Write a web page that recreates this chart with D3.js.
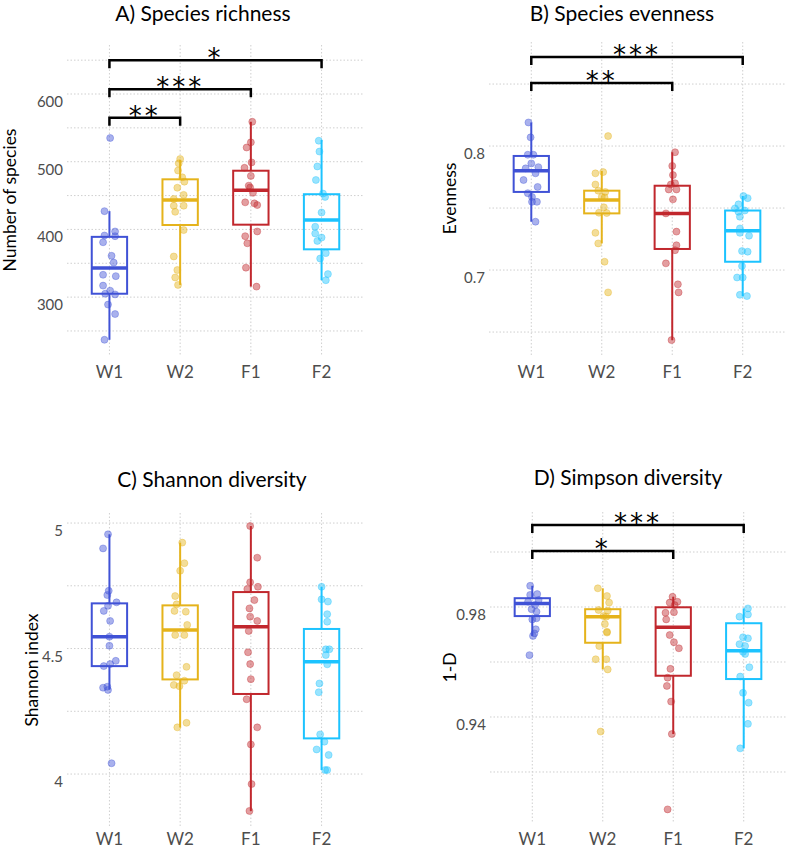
<!DOCTYPE html>
<html>
<head>
<meta charset="utf-8">
<script src="https://cdnjs.cloudflare.com/ajax/libs/d3/7.8.5/d3.min.js"></script>
<style>
  body { margin: 0; background: #fff; }
  svg text { font-family: Lato, "Open Sans", sans-serif; }
  svg text.stars { font-family: "DejaVu Sans", sans-serif; }
</style>
</head>
<body>
<div id="chart"></div>
<script>
// groups and colours
var groups = ["W1", "W2", "F1", "F2"];
var groupColors = ["#4052D6", "#E5B31B", "#C1272D", "#1CC3FF"];

// each point: [value, jitter (in category units)]
// A) species richness
var richnessPoints = [
  [[535,0.01],[427,-0.07],[397,0.08],[391,-0.07],[390,0.08],[381,-0.09],[361,0.03],[351,0.06],[333,-0.09],[331,0.09],[317,-0.09],[309.5,0.01],[305,-0.06],[304,0.08],[289,-0.02],[275,0.08],[237,-0.07]],
  [[504,0],[497.6,-0.02],[487,-0.03],[477,0.03],[470.5,0.06],[461.6,-0.04],[451,0.05],[445,-0.09],[435,-0.09],[435,0.05],[426,-0.07],[399,0.05],[360,-0.09],[340,-0.04],[329,-0.07],[318,-0.03]],
  [[559,0.02],[528.6,0],[521,-0.06],[499,0.01],[491,-0.09],[479,0],[464.6,-0.03],[462,-0.01],[454,0.03],[440,-0.08],[438.5,0.05],[436,0.09],[397,0.09],[390,-0.08],[379.5,-0.05],[343.5,-0.07],[315.5,0.08]],
  [[531,-0.04],[515,-0.03],[493,-0.06],[473,-0.08],[453,0.02],[448,0.05],[425,0],[404,-0.09],[394,-0.09],[388,0],[383,-0.06],[365,0.06],[357,-0.02],[334,0.09],[325,0.06]]
];
// box stats: [lower whisker, q1, median, q3, upper whisker]
var richnessBox = [[237,305,343,389,427],[318,406.5,443.5,474,503],[315.5,407,458,486.7,559],[325,370.6,414,452,532]];
var richnessSig = [["W1","W2",565,"**"],["W1","F1",607,"***"],["W1","F2",650,"*"]];
var richnessTicks = [300, 400, 500, 600];
var richnessMinor = [250, 350, 450, 550, 650];

// B) species evenness
var evennessPoints = [
  [[0.819,-0.04],[0.807,-0.01],[0.793,-0.05],[0.793,0.03],[0.786,0],[0.783,0.10],[0.782,-0.08],[0.778,0.06],[0.7726,-0.11],[0.767,0.09],[0.762,-0.05],[0.759,0.01],[0.755,0.01],[0.755,0.08],[0.739,0.06]],
  [[0.808,0.09],[0.779,0.02],[0.778,-0.09],[0.769,-0.09],[0.764,-0.05],[0.763,0.05],[0.759,0],[0.7586,0.04],[0.7506,0.03],[0.7462,-0.04],[0.746,0.07],[0.730,-0.09],[0.7215,-0.05],[0.7067,0.04],[0.682,0.09]],
  [[0.795,0.04],[0.784,0],[0.7766,0.01],[0.770,0.04],[0.769,-0.02],[0.765,-0.05],[0.765,0.06],[0.757,0.01],[0.7457,-0.09],[0.731,0.06],[0.720,0.06],[0.716,0.04],[0.7054,-0.09],[0.6885,0.08],[0.682,0.09],[0.6435,-0.01]],
  [[0.7597,0.01],[0.758,0.07],[0.753,-0.06],[0.7497,-0.11],[0.748,0.03],[0.747,-0.06],[0.743,-0.04],[0.7336,-0.04],[0.730,-0.04],[0.7277,0.09],[0.7153,-0.01],[0.7148,0.07],[0.7032,-0.01],[0.694,-0.08],[0.694,0],[0.680,-0.04],[0.679,0.06]]
];
var evennessBox = [[0.739,0.763,0.780,0.792,0.819],[0.7215,0.7457,0.7565,0.764,0.780],[0.6435,0.717,0.7457,0.768,0.795],[0.679,0.7067,0.7317,0.748,0.7597]];
var evennessSig = [["W1","F1",0.8508,"**"],["W1","F2",0.8718,"***"]];
var evennessTicks = [0.7, 0.8];
var evennessMinor = [0.65, 0.75, 0.85];

// C) Shannon diversity
var shannonPoints = [
  [[4.955,-0.02],[4.899,-0.09],[4.73,-0.01],[4.713,-0.03],[4.684,0.10],[4.67,-0.02],[4.65,-0.08],[4.61,0.01],[4.547,0],[4.511,0],[4.451,0.09],[4.438,0.01],[4.43,-0.08],[4.348,-0.03],[4.344,-0.09],[4.335,-0.02],[4.043,0.03]],
  [[4.922,0.03],[4.84,0.06],[4.81,0],[4.709,-0.07],[4.676,-0.05],[4.65,-0.08],[4.647,0.08],[4.594,0.10],[4.554,-0.07],[4.554,0.06],[4.427,0.09],[4.394,-0.05],[4.372,0.06],[4.355,-0.09],[4.35,-0.01],[4.204,0.09],[4.186,-0.04]],
  [[4.988,-0.01],[4.862,0.09],[4.764,-0.01],[4.746,0.10],[4.737,-0.05],[4.693,0.05],[4.66,-0.02],[4.627,-0.01],[4.61,0.09],[4.57,-0.03],[4.485,-0.04],[4.438,-0.01],[4.378,0],[4.298,-0.06],[4.186,0.09],[4.118,0],[3.96,0.01],[3.853,-0.02]],
  [[4.746,0],[4.696,0],[4.687,0.09],[4.637,0.08],[4.607,0.08],[4.497,0.06],[4.497,0.11],[4.474,0.06],[4.437,0.08],[4.361,-0.03],[4.326,-0.04],[4.158,-0.02],[4.129,0.04],[4.098,-0.07],[4.076,0.10],[4.016,0.08],[4.016,0.05]]
];
var shannonBox = [[4.337,4.43,4.547,4.68,4.955],[4.186,4.377,4.574,4.672,4.922],[3.853,4.319,4.587,4.725,4.988],[4.016,4.142,4.447,4.578,4.746]];
var shannonSig = [];
var shannonTicks = [4, 4.5, 5];
var shannonMinor = [4.25, 4.75];

// D) Simpson diversity
var simpsonPoints = [
  [[0.9877,-0.03],[0.9847,0.07],[0.9844,-0.03],[0.98255,0.09],[0.9819,-0.06],[0.9807,0.04],[0.9792,-0.01],[0.9783,0.06],[0.9759,0.06],[0.9755,0],[0.9719,0.05],[0.9704,0.03],[0.9695,0.01],[0.9625,-0.04]],
  [[0.9868,-0.07],[0.984,0.06],[0.9816,0.09],[0.9789,-0.06],[0.9787,0.07],[0.9767,0.01],[0.9765,0.05],[0.9738,0.03],[0.971,0.06],[0.9707,0.06],[0.9658,-0.05],[0.961,-0.10],[0.961,0.05],[0.9573,0.07],[0.9347,-0.03]],
  [[0.9837,-0.01],[0.9819,0.06],[0.9816,-0.05],[0.9807,0.02],[0.9781,0.01],[0.9779,-0.11],[0.9755,-0.10],[0.9698,-0.05],[0.9672,0.01],[0.965,0.08],[0.9575,-0.04],[0.9543,-0.08],[0.9513,-0.09],[0.9456,-0.03],[0.9338,-0.02],[0.9064,-0.08]],
  [[0.9795,0.06],[0.9773,0.06],[0.9765,-0.06],[0.969,-0.01],[0.9686,0.06],[0.9665,-0.06],[0.9658,0.02],[0.9637,-0.01],[0.9629,0.02],[0.9581,0.08],[0.9547,-0.05],[0.9488,-0.01],[0.9452,0.07],[0.9375,0.06],[0.9286,-0.05]]
];
var simpsonBox = [[0.9695,0.9767,0.9813,0.9832,0.9877],[0.9573,0.967,0.9765,0.9792,0.9868],[0.9338,0.955,0.9726,0.9799,0.9837],[0.9286,0.9538,0.9641,0.9741,0.9795]];
var simpsonSig = [["W1","F1",1.0004,"*"],["W1","F2",1.0098,"***"]];
var simpsonTicks = [0.94, 0.98];
var simpsonMinor = [0.92, 0.96, 1.00];

var width = 787, height = 850;
var svg = d3.select("#chart").append("svg")
  .attr("width", width)
  .attr("height", height);

// panel layouts
var panels = [
  {title: "A) Species richness", ytitle: "Number of species", pts: richnessPoints, box: richnessBox, sig: richnessSig,
   ticks: richnessTicks, minor: richnessMinor, ydom: [214.5, 672.4], x0: 67, x1: 364, top: 45, bottom: 355,
   titleX: 203, titleY: 21, ytX: 16, labY: 378},
  {title: "B) Species evenness", ytitle: "Evenness", pts: evennessPoints, box: evennessBox, sig: evennessSig,
   ticks: evennessTicks, minor: evennessMinor, ydom: [0.6315, 0.8839], x0: 489, x1: 785, top: 42, bottom: 355,
   titleX: 622, titleY: 21, ytX: 456, labY: 378},
  {title: "C) Shannon diversity", ytitle: "Shannon index", pts: shannonPoints, box: shannonBox, sig: shannonSig,
   ticks: shannonTicks, minor: shannonMinor, ydom: [3.789, 5.04], x0: 67, x1: 364, top: 513, bottom: 827,
   titleX: 212, titleY: 487, ytX: 38, labY: 845},
  {title: "D) Simpson diversity", ytitle: "1-D", pts: simpsonPoints, box: simpsonBox, sig: simpsonSig,
   ticks: simpsonTicks, minor: simpsonMinor, ydom: [0.90145, 1.01455], x0: 490, x1: 786, top: 512, bottom: 823,
   titleX: 628, titleY: 485, ytX: 456, labY: 845}
];

panels.forEach(function(p) {
  var x = d3.scaleLinear().domain([0.4, 4.6]).range([p.x0, p.x1]);
  var y = d3.scaleLinear().domain(p.ydom).range([p.bottom, p.top]);
  var g = svg.append("g");

  // grid lines
  var hLines = p.ticks.concat(p.minor);
  g.selectAll(".hgrid").data(hLines).enter().append("line")
    .attr("x1", p.x0).attr("x2", p.x1)
    .attr("y1", function(d) { return y(d); }).attr("y2", function(d) { return y(d); })
    .attr("stroke", "#cfcfcf").attr("stroke-width", 1).attr("stroke-dasharray", "1.5,2");
  g.selectAll(".vgrid").data(groups).enter().append("line")
    .attr("x1", function(d, i) { return x(i + 1); }).attr("x2", function(d, i) { return x(i + 1); })
    .attr("y1", p.top).attr("y2", p.bottom)
    .attr("stroke", "#cfcfcf").attr("stroke-width", 1).attr("stroke-dasharray", "1.5,2");

  // y tick labels
  g.selectAll(".ylab").data(p.ticks).enter().append("text")
    .attr("x", p.x0 - 4)
    .attr("y", function(d) { return y(d) + 7; })
    .attr("dominant-baseline", "central")
    .attr("text-anchor", "end")
    .attr("font-size", 15).attr("fill", "#4d4d4d")
    .text(function(d) { return String(d); });

  // x tick labels
  g.selectAll(".xlab").data(groups).enter().append("text")
    .attr("x", function(d, i) { return x(i + 1); })
    .attr("y", p.labY)
    .attr("text-anchor", "middle")
    .attr("font-size", 17).attr("fill", "#4d4d4d")
    .text(function(d) { return d; });

  // titles
  g.append("text").attr("x", p.titleX).attr("y", p.titleY)
    .attr("text-anchor", "middle").attr("font-size", 21).attr("fill", "#000")
    .text(p.title);
  g.append("text")
    .attr("transform", "translate(" + p.ytX + "," + ((p.top + p.bottom) / 2) + ") rotate(-90)")
    .attr("text-anchor", "middle").attr("font-size", 17.5).attr("fill", "#000")
    .text(p.ytitle);

  // boxes
  p.box.forEach(function(b, i) {
    var cx = x(i + 1), hw = x(1.25) - x(1), col = groupColors[i];
    g.append("line").attr("x1", cx).attr("x2", cx).attr("y1", y(b[0])).attr("y2", y(b[1]))
      .attr("stroke", col).attr("stroke-width", 2);
    g.append("line").attr("x1", cx).attr("x2", cx).attr("y1", y(b[3])).attr("y2", y(b[4]))
      .attr("stroke", col).attr("stroke-width", 2);
    g.append("rect").attr("x", cx - hw).attr("width", 2 * hw)
      .attr("y", y(b[3])).attr("height", y(b[1]) - y(b[3]))
      .attr("fill", "none").attr("stroke", col).attr("stroke-width", 2);
    g.append("line").attr("x1", cx - hw).attr("x2", cx + hw).attr("y1", y(b[2])).attr("y2", y(b[2]))
      .attr("stroke", col).attr("stroke-width", 3.5);
  });

  // jittered points
  p.pts.forEach(function(arr, i) {
    g.selectAll(".pt" + i).data(arr).enter().append("circle")
      .attr("cx", function(d) { return x(i + 1 + d[1]); })
      .attr("cy", function(d) { return y(d[0]); })
      .attr("r", 3.5)
      .attr("fill", groupColors[i]).attr("fill-opacity", 0.45)
      .attr("stroke", groupColors[i]).attr("stroke-opacity", 0.35).attr("stroke-width", 1);
  });

  // significance brackets
  p.sig.forEach(function(s) {
    var xa = x(groups.indexOf(s[0]) + 1), xb = x(groups.indexOf(s[1]) + 1), yy = y(s[2]);
    g.append("path")
      .attr("d", "M" + xa + "," + (yy + 8) + "V" + yy + "H" + xb + "V" + (yy + 8))
      .attr("fill", "none").attr("stroke", "#000").attr("stroke-width", 2.5);
    g.append("text").attr("class", "stars")
      .attr("x", (xa + xb) / 2).attr("y", yy + 7)
      .attr("text-anchor", "middle").attr("font-size", 26).attr("letter-spacing", 3)
      .attr("fill", "#000").text(s[3]);
  });
});
</script>
</body>
</html>
